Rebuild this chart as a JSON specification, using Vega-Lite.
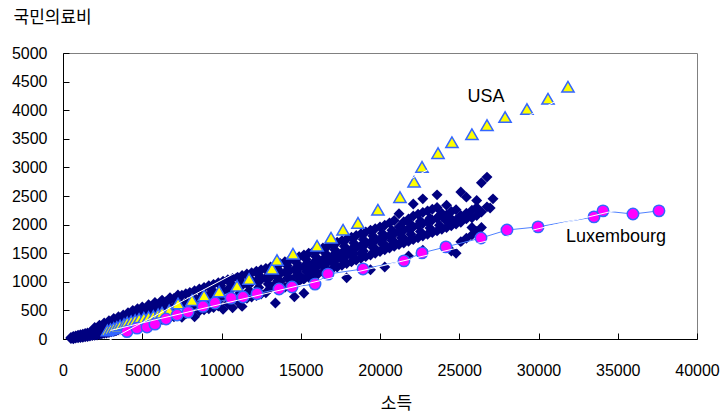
{
  "$schema": "https://vega.github.io/schema/vega-lite/v6.json",
  "width": 634,
  "height": 286,
  "autosize": "none",
  "padding": {"left": 63, "top": 53, "right": 26, "bottom": 78},
  "background": "white",
  "config": {
    "view": {"stroke": "#808080", "strokeWidth": 1},
    "axis": {"grid": false, "domainColor": "#000000", "tickColor": "#000000", "labelColor": "#000000", "titleColor": "#000000", "labelFont": "Liberation Sans", "labelFontSize": 16, "titleFont": "Noto Sans CJK KR", "titleFontSize": 17, "titleFontWeight": "normal", "labelFlush": false, "labelOverlap": false, "tickSize": -6}
  },
  "datasets": {
    "oecd": [
      {"x":500,"y":10},{"x":500,"y":25},{"x":650,"y":5},{"x":650,"y":30},{"x":650,"y":45},{"x":800,"y":15},{"x":800,"y":40},{"x":800,"y":55},{"x":950,"y":20},{"x":950,"y":45},{"x":950,"y":65},
      {"x":1100,"y":25},{"x":1100,"y":55},{"x":1100,"y":75},{"x":1250,"y":30},{"x":1250,"y":60},{"x":1250,"y":85},{"x":1400,"y":40},{"x":1400,"y":70},{"x":1400,"y":95},{"x":1550,"y":45},{"x":1550,"y":80},{"x":1550,"y":105},
      {"x":1700,"y":50},{"x":1700,"y":90},{"x":1700,"y":115},{"x":1850,"y":60},{"x":1850,"y":100},{"x":1850,"y":130},{"x":2000,"y":65},{"x":2000,"y":110},{"x":2000,"y":145},{"x":2000,"y":200},
      {"x":2150,"y":70},{"x":2150,"y":120},{"x":2150,"y":160},{"x":2300,"y":80},{"x":2300,"y":130},{"x":2300,"y":175},{"x":2300,"y":240},{"x":2450,"y":90},{"x":2450,"y":140},{"x":2450,"y":190},
      {"x":2600,"y":100},{"x":2600,"y":155},{"x":2600,"y":205},{"x":2600,"y":280},{"x":2750,"y":105},{"x":2750,"y":165},{"x":2750,"y":220},{"x":2900,"y":115},{"x":2900,"y":180},{"x":2900,"y":240},{"x":2900,"y":320},
      {"x":3050,"y":125},{"x":3050,"y":190},{"x":3050,"y":255},{"x":3200,"y":135},{"x":3200,"y":205},{"x":3200,"y":270},{"x":3200,"y":360},{"x":3350,"y":140},{"x":3350,"y":215},{"x":3350,"y":285},
      {"x":3500,"y":150},{"x":3500,"y":230},{"x":3500,"y":300},{"x":3500,"y":390},{"x":3650,"y":160},{"x":3650,"y":245},{"x":3650,"y":320},{"x":3800,"y":170},{"x":3800,"y":255},{"x":3800,"y":335},{"x":3800,"y":420},
      {"x":3950,"y":180},{"x":3950,"y":270},{"x":3950,"y":350},{"x":4100,"y":190},{"x":4100,"y":285},{"x":4100,"y":365},{"x":4100,"y":460},{"x":4250,"y":200},{"x":4250,"y":300},{"x":4250,"y":385},
      {"x":4400,"y":210},{"x":4400,"y":315},{"x":4400,"y":400},{"x":4400,"y":500},{"x":4550,"y":220},{"x":4550,"y":330},{"x":4550,"y":420},{"x":4700,"y":230},{"x":4700,"y":345},{"x":4700,"y":440},{"x":4700,"y":530},
      {"x":4850,"y":240},{"x":4850,"y":360},{"x":4850,"y":455},{"x":5000,"y":250},{"x":5000,"y":375},{"x":5000,"y":470},{"x":5000,"y":560},{"x":5200,"y":265},{"x":5200,"y":390},{"x":5200,"y":495},
      {"x":5400,"y":280},{"x":5400,"y":410},{"x":5400,"y":520},{"x":5400,"y":600},{"x":5600,"y":295},{"x":5600,"y":430},{"x":5600,"y":545},{"x":5800,"y":310},{"x":5800,"y":450},{"x":5800,"y":570},{"x":5800,"y":640},
      {"x":6000,"y":320},{"x":6000,"y":470},{"x":6000,"y":595},{"x":6250,"y":340},{"x":6250,"y":490},{"x":6250,"y":620},{"x":6250,"y":680},{"x":6500,"y":355},{"x":6500,"y":515},{"x":6500,"y":650},
      {"x":6750,"y":375},{"x":6750,"y":540},{"x":6750,"y":680},{"x":6750,"y":720},{"x":7000,"y":390},{"x":7000,"y":560},{"x":7000,"y":710},{"x":7250,"y":410},{"x":7250,"y":585},{"x":7250,"y":735},{"x":7250,"y":770},
      {"x":7500,"y":380},{"x":7500,"y":610},{"x":7500,"y":765},{"x":7750,"y":440},{"x":7750,"y":635},{"x":7750,"y":790},{"x":8000,"y":460},{"x":8000,"y":655},{"x":8000,"y":815},
      {"x":8300,"y":390},{"x":8300,"y":680},{"x":8300,"y":845},{"x":8600,"y":490},{"x":8600,"y":710},{"x":8600,"y":875},{"x":8900,"y":510},{"x":8900,"y":740},{"x":8900,"y":900},
      {"x":9200,"y":530},{"x":9200,"y":765},{"x":9200,"y":930},{"x":9500,"y":550},{"x":9500,"y":790},{"x":9500,"y":955},{"x":9800,"y":575},{"x":9800,"y":815},{"x":9800,"y":985},
      {"x":10100,"y":520},{"x":10100,"y":840},{"x":10100,"y":1010},{"x":10400,"y":620},{"x":10400,"y":865},{"x":10400,"y":1035},{"x":10700,"y":545},{"x":10700,"y":890},{"x":10700,"y":1060},
      {"x":11000,"y":660},{"x":11000,"y":915},{"x":11000,"y":1085},{"x":11300,"y":570},{"x":11300,"y":940},{"x":11300,"y":1110},{"x":11600,"y":710},{"x":11600,"y":965},{"x":11600,"y":1135},
      {"x":11900,"y":735},{"x":11900,"y":990},{"x":11900,"y":1160},{"x":12200,"y":760},{"x":12200,"y":1015},{"x":12200,"y":1185},{"x":12500,"y":785},{"x":12500,"y":1040},{"x":12500,"y":1210},
      {"x":12800,"y":810},{"x":12800,"y":1065},{"x":12800,"y":1235},{"x":13100,"y":890},{"x":13100,"y":1090},{"x":13100,"y":1260},{"x":13400,"y":630},{"x":13400,"y":960},{"x":13400,"y":1115},{"x":13400,"y":1290},
      {"x":13700,"y":870},{"x":13700,"y":1140},{"x":13700,"y":1320},{"x":13700,"y":1010},{"x":14000,"y":905},{"x":14000,"y":1165},{"x":14000,"y":1350},{"x":14300,"y":940},{"x":14300,"y":1190},{"x":14300,"y":1380},{"x":14300,"y":1060},
      {"x":14600,"y":740},{"x":14600,"y":975},{"x":14600,"y":1215},{"x":14600,"y":1410},{"x":14900,"y":1010},{"x":14900,"y":1240},{"x":14900,"y":1440},{"x":14900,"y":1120},
      {"x":15200,"y":800},{"x":15200,"y":1045},{"x":15200,"y":1270},{"x":15200,"y":1470},{"x":15500,"y":1080},{"x":15500,"y":1300},{"x":15500,"y":1500},{"x":15500,"y":1180},
      {"x":15800,"y":1110},{"x":15800,"y":1330},{"x":15800,"y":1530},{"x":15800,"y":1240},{"x":16100,"y":1140},{"x":16100,"y":1360},{"x":16100,"y":1560},{"x":16400,"y":1170},{"x":16400,"y":1390},{"x":16400,"y":1590},{"x":16400,"y":1280},
      {"x":16700,"y":1200},{"x":16700,"y":1420},{"x":16700,"y":1620},{"x":17000,"y":1230},{"x":17000,"y":1450},{"x":17000,"y":1650},{"x":17000,"y":1340},{"x":17300,"y":1260},{"x":17300,"y":1480},{"x":17300,"y":1690},
      {"x":17600,"y":1290},{"x":17600,"y":1510},{"x":17600,"y":1720},{"x":17600,"y":1400},{"x":17900,"y":1070},{"x":17900,"y":1320},{"x":17900,"y":1540},{"x":17900,"y":1750},
      {"x":18200,"y":1350},{"x":18200,"y":1570},{"x":18200,"y":1780},{"x":18200,"y":1460},{"x":18500,"y":1380},{"x":18500,"y":1600},{"x":18500,"y":1810},{"x":18800,"y":1410},{"x":18800,"y":1630},{"x":18800,"y":1840},{"x":18800,"y":1500},
      {"x":19100,"y":1440},{"x":19100,"y":1660},{"x":19100,"y":1870},{"x":19400,"y":1210},{"x":19400,"y":1470},{"x":19400,"y":1690},{"x":19400,"y":1900},{"x":19700,"y":1500},{"x":19700,"y":1720},{"x":19700,"y":1930},{"x":19700,"y":1580},
      {"x":20000,"y":1530},{"x":20000,"y":1750},{"x":20000,"y":1960},{"x":20300,"y":1260},{"x":20300,"y":1560},{"x":20300,"y":1780},{"x":20300,"y":1990},{"x":20300,"y":1650},
      {"x":20600,"y":1590},{"x":20600,"y":1810},{"x":20600,"y":2030},{"x":20900,"y":1620},{"x":20900,"y":1840},{"x":20900,"y":2070},{"x":20900,"y":1700},
      {"x":21200,"y":1650},{"x":21200,"y":1870},{"x":21200,"y":1960},{"x":21200,"y":2190},{"x":21500,"y":1680},{"x":21500,"y":1900},{"x":21500,"y":2050},{"x":21500,"y":1760},
      {"x":21800,"y":1450},{"x":21800,"y":1710},{"x":21800,"y":1930},{"x":21800,"y":2100},{"x":22100,"y":1740},{"x":22100,"y":1960},{"x":22100,"y":2150},{"x":22100,"y":2360},
      {"x":22400,"y":1770},{"x":22400,"y":1990},{"x":22400,"y":2180},{"x":22700,"y":1550},{"x":22700,"y":1800},{"x":22700,"y":2020},{"x":22700,"y":2210},{"x":22700,"y":2450},
      {"x":23000,"y":1830},{"x":23000,"y":2050},{"x":23000,"y":2240},{"x":23300,"y":1860},{"x":23300,"y":2080},{"x":23300,"y":2270},{"x":23600,"y":1890},{"x":23600,"y":2110},{"x":23600,"y":2300},{"x":23600,"y":2520},
      {"x":23900,"y":1920},{"x":23900,"y":2140},{"x":23900,"y":2200},{"x":24200,"y":1950},{"x":24200,"y":2060},{"x":24200,"y":2170},{"x":24200,"y":2340},
      {"x":24500,"y":1540},{"x":24500,"y":1980},{"x":24500,"y":2100},{"x":24500,"y":2230},{"x":24800,"y":1500},{"x":24800,"y":2010},{"x":24800,"y":2080},{"x":24800,"y":2260},
      {"x":25100,"y":1700},{"x":25100,"y":2040},{"x":25100,"y":2160},{"x":25100,"y":2570},{"x":25450,"y":1760},{"x":25450,"y":2100},{"x":25450,"y":2200},{"x":25450,"y":2480},
      {"x":25800,"y":1820},{"x":25800,"y":2120},{"x":25800,"y":2250},{"x":25800,"y":1950},{"x":26100,"y":1880},{"x":26100,"y":2160},{"x":26100,"y":2300},{"x":26100,"y":2420},
      {"x":26400,"y":1950},{"x":26400,"y":2220},{"x":26400,"y":2730},{"x":26750,"y":2830},{"x":26750,"y":2310},{"x":26950,"y":2290},{"x":27130,"y":2450},
      {"x":8150,"y":560},{"x":8150,"y":760},{"x":8750,"y":600},{"x":8750,"y":820},{"x":9350,"y":660},{"x":9350,"y":870},{"x":9950,"y":700},{"x":9950,"y":930},
      {"x":10550,"y":760},{"x":10550,"y":980},{"x":11150,"y":800},{"x":11150,"y":1030},{"x":11750,"y":850},{"x":11750,"y":1070},{"x":12350,"y":900},{"x":12350,"y":1120},
      {"x":12950,"y":960},{"x":12950,"y":1170},{"x":13550,"y":1020},{"x":13550,"y":1220},{"x":14150,"y":1060},{"x":14150,"y":1280},{"x":14750,"y":1110},{"x":14750,"y":1330},
      {"x":15350,"y":1180},{"x":15350,"y":1390},{"x":15950,"y":1240},{"x":15950,"y":1440},{"x":16550,"y":1300},{"x":16550,"y":1500},{"x":17150,"y":1360},{"x":17150,"y":1560},
      {"x":17750,"y":1420},{"x":17750,"y":1620},{"x":18350,"y":1480},{"x":18350,"y":1680},{"x":18950,"y":1540},{"x":18950,"y":1740},{"x":19550,"y":1600},{"x":19550,"y":1800},
      {"x":20150,"y":1660},{"x":20150,"y":1850},{"x":20750,"y":1720},{"x":20750,"y":1900},{"x":21350,"y":1770},{"x":21350,"y":1950},{"x":21950,"y":1830},{"x":21950,"y":2000},
      {"x":22550,"y":1880},{"x":22550,"y":2060},{"x":23150,"y":1940},{"x":23150,"y":2110},{"x":23750,"y":1990},{"x":23750,"y":2160}
    ],
    "usa": [
      {"x":2800,"y":150},{"x":3000,"y":170},{"x":3200,"y":190},{"x":3400,"y":210},{"x":3600,"y":235},{"x":3850,"y":260},{"x":4050,"y":290},{"x":4300,"y":310},{"x":4550,"y":330},{"x":4800,"y":350},
      {"x":5100,"y":370},{"x":5400,"y":385},{"x":5700,"y":400},{"x":6000,"y":430},{"x":6250,"y":460},{"x":6700,"y":500},{"x":7260,"y":620},{"x":8140,"y":680},{"x":8900,"y":760},{"x":9850,"y":830},
      {"x":10980,"y":930},{"x":11740,"y":1050},{"x":13190,"y":1230},{"x":13500,"y":1380},{"x":14510,"y":1490},{"x":16030,"y":1630},{"x":16910,"y":1770},{"x":17670,"y":1910},{"x":18610,"y":2030},{"x":19870,"y":2260},
      {"x":21260,"y":2480},{"x":22150,"y":2750},{"x":22650,"y":3010},{"x":23660,"y":3250},{"x":24540,"y":3440},{"x":25800,"y":3580},{"x":26750,"y":3740},{"x":27890,"y":3880},{"x":29270,"y":4020},{"x":30600,"y":4200},{"x":31860,"y":4410}
    ],
    "lux": [
      {"x":4040,"y":130},{"x":4670,"y":190},{"x":5300,"y":210},{"x":5800,"y":260},{"x":6500,"y":350},{"x":7200,"y":420},{"x":7890,"y":470},{"x":8830,"y":570},{"x":9590,"y":630},{"x":10600,"y":715},
      {"x":11360,"y":735},{"x":12240,"y":790},{"x":13630,"y":875},{"x":14450,"y":910},{"x":15900,"y":960},{"x":16720,"y":1135},{"x":18930,"y":1225},{"x":21510,"y":1365},{"x":22650,"y":1505},{"x":24160,"y":1610},
      {"x":26370,"y":1765},{"x":28010,"y":1905},{"x":29970,"y":1960},{"x":33500,"y":2135},{"x":34070,"y":2240},{"x":35960,"y":2185},{"x":37600,"y":2240}
    ],
    "labels": [
      {"x":26690,"y":4231,"label":"USA"},
      {"x":34890,"y":1783,"label":"Luxembourg"}
    ]
  },
  "encoding": {
    "x": {"field": "x", "type": "quantitative", "scale": {"domain": [0, 40000], "nice": false, "zero": false},
      "axis": {"title": "소득", "values": [0,5000,10000,15000,20000,25000,30000,35000,40000], "format": "d", "labelPadding": 29, "titleX": 333, "titleY": 64, "titleBaseline": "middle", "titleAlign": "center"}},
    "y": {"field": "y", "type": "quantitative", "scale": {"domain": [0, 5000], "nice": false, "zero": false},
      "axis": {"title": "국민의료비", "values": [0,500,1000,1500,2000,2500,3000,3500,4000,4500,5000], "format": "d", "labelPadding": 22, "titleAngle": 0, "titleX": -50, "titleY": -36, "titleAlign": "left", "titleBaseline": "middle"}}
  },
  "layer": [
    {"data": {"name": "oecd"}, "mark": {"type": "point", "shape": "diamond", "filled": true, "color": "#000080", "size": 120, "opacity": 1}},
    {"data": {"name": "lux"}, "mark": {"type": "line", "color": "#4f81ff", "strokeWidth": 1}},
    {"data": {"name": "usa"}, "mark": {"type": "point", "shape": "triangle-up", "filled": true, "fill": "#ffff00", "stroke": "#3366ff", "strokeWidth": 1.5, "size": 150, "opacity": 1}},
    {"data": {"name": "lux"}, "mark": {"type": "point", "shape": "circle", "filled": true, "fill": "#ff00ff", "stroke": "#3366ff", "strokeWidth": 1.5, "size": 130, "opacity": 1}},
    {"data": {"name": "usa"}, "transform": [{"regression": "y", "on": "x", "method": "linear", "extent": [2300, 31900]}], "mark": {"type": "line", "color": "#ffffff", "strokeWidth": 1}},
    {"data": {"name": "lux"}, "transform": [{"regression": "y", "on": "x", "method": "linear", "extent": [3000, 37600]}], "mark": {"type": "line", "color": "#ffffff", "strokeWidth": 1}},
    {"data": {"name": "labels"}, "mark": {"type": "text", "font": "Liberation Sans", "fontSize": 18, "color": "#000000", "align": "center", "baseline": "middle"}, "encoding": {"text": {"field": "label", "type": "nominal"}}}
  ]
}
